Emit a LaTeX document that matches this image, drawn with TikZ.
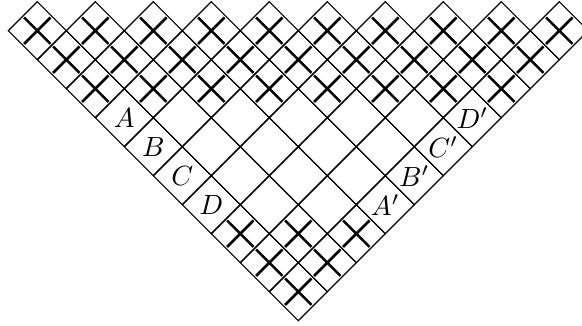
\documentclass[tikz,border=0pt]{standalone}
\begin{document}
\begin{tikzpicture}[x=0.36pt,y=-0.36pt,
  cell/.style={draw, line width=0.4pt},
  crossmark/.style={line width=0.9pt},
  lbl/.style={inner sep=0pt}]
\useasboundingbox (0,0) rectangle (582,326);
\clip (0,0) rectangle (582,326);
% grid of diamonds
\foreach \r in {0,...,9}{
  \pgfmathtruncatemacro\kmax{9-\r}
  \foreach \k in {0,...,\kmax}{
    \pgfmathsetmacro\cx{37.3+29*(\r+2*\k)}
    \pgfmathsetmacro\cy{30.7+29*\r}
    \draw[cell] (\cx-29,\cy) -- (\cx,\cy-29) -- (\cx+29,\cy) -- (\cx,\cy+29) -- cycle;
  }
}
% crosses
\foreach \r in {0,1,2,7,8,9}{
  \pgfmathtruncatemacro\kmax{9-\r}
  \foreach \k in {0,...,\kmax}{
    \pgfmathsetmacro\cx{37.3+29*(\r+2*\k)}
    \pgfmathsetmacro\cy{30.7+29*\r}
    \draw[crossmark] (\cx-13.2,\cy-13.2) -- (\cx+13.2,\cy+13.2)
                     (\cx-13.2,\cy+13.2) -- (\cx+13.2,\cy-13.2);
  }
}
% labels
\node[lbl] (lA)  at (37.3+29*3, 30.7+29*3) {$A$};
\node[lbl] (lDp) at (37.3+29*15, 30.7+29*3) {$D'$};
\node[lbl] (lB)  at (37.3+29*4, 30.7+29*4) {$B$};
\node[lbl] (lCp) at (37.3+29*14, 30.7+29*4) {$C'$};
\node[lbl] (lC)  at (37.3+29*5, 30.7+29*5) {$C$};
\node[lbl] (lBp) at (37.3+29*13, 30.7+29*5) {$B'$};
\node[lbl] (lD)  at (37.3+29*6, 30.7+29*6) {$D$};
\node[lbl] (lAp) at (37.3+29*12, 30.7+29*6) {$A'$};
\end{tikzpicture}
\end{document}
